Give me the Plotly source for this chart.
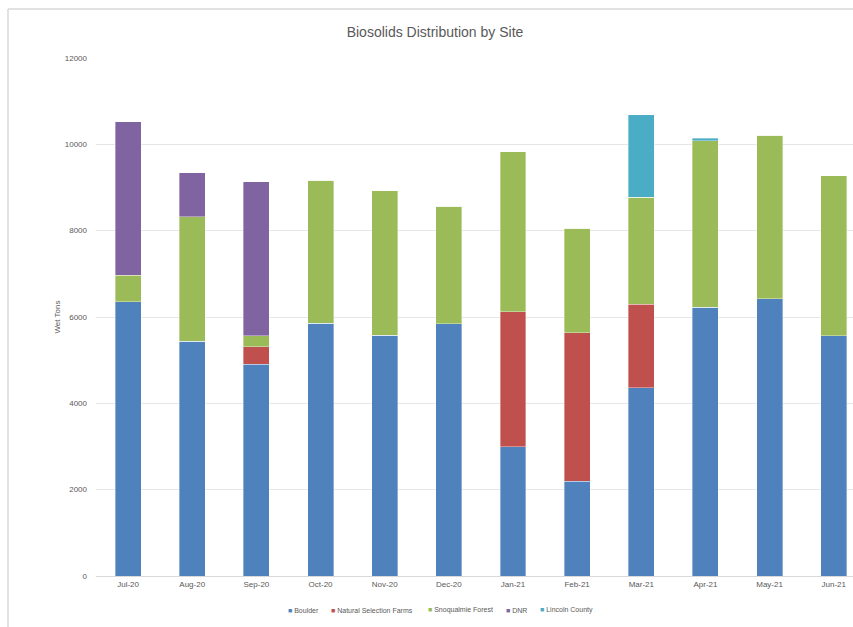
import plotly.graph_objects as go

months = ["Jul-20", "Aug-20", "Sep-20", "Oct-20", "Nov-20", "Dec-20",
          "Jan-21", "Feb-21", "Mar-21", "Apr-21", "May-21", "Jun-21"]
boulder = [6350, 5440, 4910, 5860, 5580, 5840, 2990, 2200, 4360, 6230, 6420, 5560]
natural_selection = [0, 0, 400, 0, 0, 0, 3130, 3430, 1940, 0, 0, 0]
snoqualmie = [620, 2880, 250, 3310, 3340, 2730, 3710, 2430, 2480, 3850, 3790, 3710]
dnr = [3550, 1020, 3570, 0, 0, 0, 0, 0, 0, 0, 0, 0]
lincoln = [0, 0, 0, 0, 0, 0, 0, 0, 1900, 60, 0, 0]

series = [
    ("Boulder", boulder, "#4F81BD"),
    ("Natural Selection Farms", natural_selection, "#C0504D"),
    ("Snoqualmie Forest", snoqualmie, "#9BBB59"),
    ("DNR", dnr, "#8064A2"),
    ("Lincoln County", lincoln, "#4BACC6"),
]

FONT = "Liberation Sans Narrow, Liberation Sans, sans-serif"

fig = go.Figure()
for name, vals, col in series:
    fig.add_trace(go.Bar(
        x=list(range(len(months))), y=vals, name=name, showlegend=False,
        marker=dict(color=col, line=dict(color="rgba(255,255,255,0.6)", width=0.6)),
    ))

W, H = 853, 627
L, R, T, B = 96, 0, 58, 51
pw, ph = W - L - R, H - T - B


def px(x):
    return (x - L) / pw


def py(y):
    return (H - B - y) / ph


# legend built as text annotations (compact Excel-style legend)
legend_x = [286, 329, 426, 504, 538]
annotations = []
for (name, _, col), lx in zip(series, legend_x):
    annotations.append(dict(
        xref="paper", yref="paper", x=px(lx), y=py(610), xanchor="left", yanchor="middle",
        showarrow=False,
        text=f"<span style='color:{col}'>■</span> {name}",
        font=dict(size=7, color="#595959", family=FONT),
    ))

fig.update_layout(
    width=W, height=H,
    barmode="stack", bargap=0.595,
    plot_bgcolor="white", paper_bgcolor="white",
    margin=dict(l=L, r=R, t=T, b=B, autoexpand=False),
    font=dict(family=FONT, color="#595959", size=8),
    title=dict(text="Biosolids Distribution by Site", x=px(435), xref="paper", xanchor="center",
               y=1 - 32 / H, yanchor="middle",
               font=dict(size=14, color="#595959", family=FONT)),
    xaxis=dict(
        range=[-0.5, 11.3], tickmode="array", tickvals=list(range(len(months))), ticktext=months,
        showgrid=False, zeroline=False, showline=True, linecolor="#D9D9D9", linewidth=1,
        ticks="", tickfont=dict(size=8, color="#595959"),
    ),
    yaxis=dict(
        range=[0, 12000], dtick=2000, tickformat="d", showgrid=True, gridcolor="#E6E6E6", gridwidth=1,
        zeroline=False, showline=False, ticks="", tickfont=dict(size=8, color="#595959"),
        title=dict(text="Wet Tons", font=dict(size=8, color="#595959"), standoff=2),
        ticklabelstandoff=8,
    ),
    showlegend=False,
    annotations=annotations,
    shapes=[
        dict(type="line", xref="paper", yref="paper", x0=px(8), x1=px(853), y0=py(9), y1=py(9),
             line=dict(color="#D9D9D9", width=1.5)),
        dict(type="line", xref="paper", yref="paper", x0=px(8), x1=px(8), y0=py(9), y1=py(627),
             line=dict(color="#D9D9D9", width=1.5)),
    ],
)

fig.write_html("out.html", config={"displayModeBar": False})

# remove default browser body margin so the figure sits at the page origin
with open("out.html", "r", encoding="utf-8") as f:
    html = f.read()
html = html.replace("<body>", "<body style=\"margin:0;overflow:hidden\">", 1)
with open("out.html", "w", encoding="utf-8") as f:
    f.write(html)
